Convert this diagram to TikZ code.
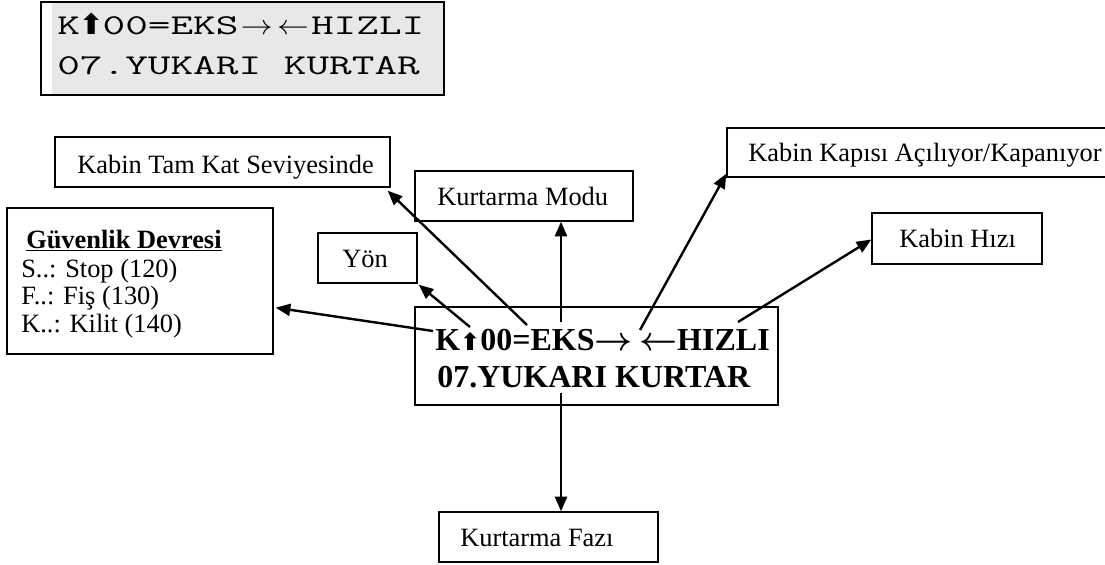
\documentclass[tikz,border=0pt]{standalone}
\usepackage{fontspec}
\setmainfont{Liberation Serif}
\newfontfamily\symfont{DejaVu Sans}
\usetikzlibrary{arrows.meta,fit,calc}
\newsavebox\lcdcellbox
\newcommand\lcdcell[2][1]{\sbox\lcdcellbox{0}\makebox[#1\wd\lcdcellbox][c]{#2}}
\tikzset{
  box/.style={draw, line width=1pt, inner sep=0pt},
  lbl/.style={anchor=base west, inner sep=0pt, font=\fontsize{19.8}{24}\selectfont},
  lcdtxt/.style={anchor=base west, inner sep=0pt, font=\ttfamily\fontsize{21.5}{26}\selectfont},
  maintxt/.style={anchor=base west, inner sep=0pt, font=\bfseries\boldmath\fontsize{24}{29}\selectfont},
  conn/.style={line width=1.8pt, -{Triangle[length=11pt,width=9pt]}},
}
\begin{document}
\begin{tikzpicture}[x=0.75pt,y=-0.75pt]
\useasboundingbox (0,0) rectangle (1105,564);
\clip (0,0) rectangle (1105,564);

% ---- LCD display at top
\fill[black!9] (52,3) rectangle (443,94);
\coordinate (lcd1) at (41,2);
\coordinate (lcd2) at (444,95);
\node[box, line width=2.2pt, fit=(lcd1)(lcd2)] (lcd) {};
\node[lcdtxt] (l1) at (57,34)
  {\scalebox{1.535}[1]{K\lcdcell{\symfont\bfseries\scalebox{0.66}[1]{⬆}}00=EKS\lcdcell[1.6]{\scalebox{0.75}[1]{$\rightarrow$}}\lcdcell[1.6]{\scalebox{0.75}[1]{$\leftarrow$}}HIZLI}};
\node[lcdtxt] (l2) at (57,74)
  {\scalebox{1.535}[1]{07.YUKARI KURTAR}};

% ---- main display
\coordinate (m1c) at (415,307);
\coordinate (m2c) at (778,405);
\node[box, line width=2.2pt, fit=(m1c)(m2c)] (main) {};
\node[maintxt] (m1) at (435,350)
  {K{\symfont\scalebox{0.75}{⬆}}00=EKS$\rightarrow$\hspace{0.2em}$\leftarrow$HIZLI};
\node[maintxt] (m2) at (437,387)
  {07.YUKARI KURTAR};

% ---- Guvenlik Devresi
\coordinate (g1) at (7,208);
\coordinate (g2) at (273,354);
\node[box, fit=(g1)(g2)] (guv) {};
\node[lbl, font=\bfseries\fontsize{19.8}{24}\selectfont] (gt) at (26,248) {\underline{Güvenlik Devresi}};
\node[lbl] (gs) at (21,277) {S..: Stop (120)};
\node[lbl] (gf) at (21,304) {F..: Fiş (130)};
\node[lbl] (gk) at (21,332) {K..: Kilit (140)};

% ---- Kabin Tam Kat Seviyesinde
\coordinate (k1) at (55,137);
\coordinate (k2) at (390,187);
\node[box, fit=(k1)(k2)] (kt) {};
\node[lbl] (ktt) at (77,173) {Kabin Tam Kat Seviyesinde};

% ---- Kurtarma Modu
\coordinate (km1) at (415,171);
\coordinate (km2) at (633,221);
\node[box, fit=(km1)(km2)] (km) {};
\node[lbl] (kmt) at (437,205) {Kurtarma Modu};

% ---- Yon
\coordinate (y1) at (318,233);
\coordinate (y2) at (417,283);
\node[box, fit=(y1)(y2)] (yon) {};
\node[lbl] (yt) at (342,267) {Yön};

% ---- Kabin Kapisi
\coordinate (d1) at (727,128);
\coordinate (d2) at (1125,177);
\node[box, fit=(d1)(d2)] (kd) {};
\node[lbl] (kdt) at (748,161) {Kabin Kapısı Açılıyor/Kapanıyor};

% ---- Kabin Hizi
\coordinate (h1) at (872,213);
\coordinate (h2) at (1042,264);
\node[box, fit=(h1)(h2)] (kh) {};
\node[lbl] (kht) at (899,247) {Kabin Hızı};

% ---- Kurtarma Fazi
\coordinate (f1) at (439,512);
\coordinate (f2) at (658,562);
\node[box, fit=(f1)(f2)] (kf) {};
\node[lbl] (kft) at (460,546) {Kurtarma Fazı};

% ---- connector start points on the main display text
\coordinate (sG) at (433,331);
\coordinate (sY) at (470,327);
\coordinate (sK) at (527,325);
\coordinate (sM) at (561,322);
\coordinate (sD) at (640,330);
\coordinate (sH) at (738,322);
\coordinate (sF) at (561,393);

\draw[conn] (sG) -- ($(guv.south east)+(2,-47)$);
\draw[conn] (sY) -- ($(yon.south east)+(1,1)$);
\draw[conn] (sK) -- ($(kt.south east)+(-3,3)$);
\draw[conn] (sM) -- (sM |- km.south);
\draw[conn] (sD) -- ($(kd.south west)+(0,-4)$);
\draw[conn] (sH) -- ($(kh.west)+(0,1)$);
\draw[conn] (sF) -- (sF |- kf.north);
\end{tikzpicture}
\end{document}
